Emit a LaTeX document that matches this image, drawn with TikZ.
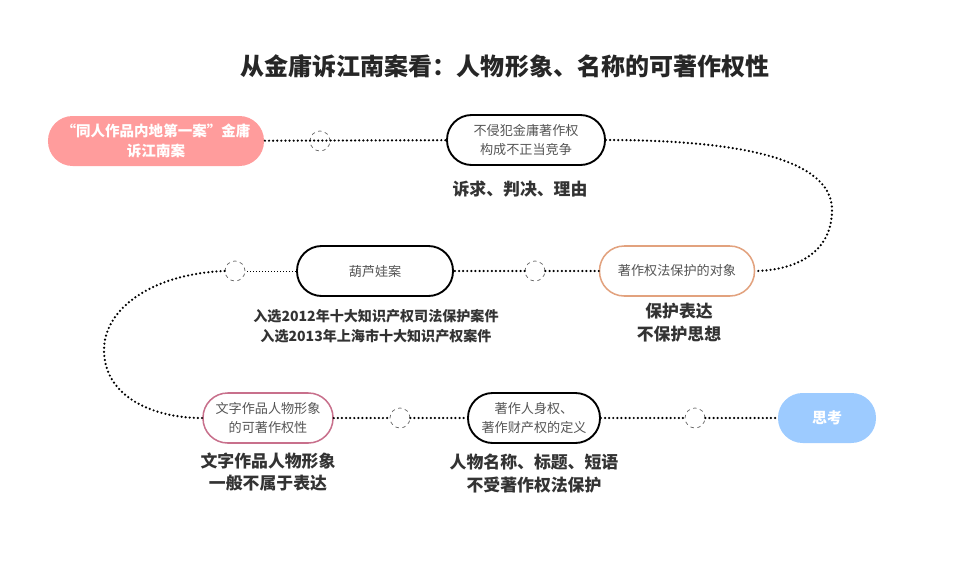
\documentclass[tikz,border=0pt]{standalone}
\usepackage{fontspec}
\newfontfamily\cjk{Noto Sans CJK SC}
\definecolor{pinkfill}{HTML}{FF9C9C}
\definecolor{bluefill}{HTML}{9DCBFF}
\definecolor{orangeedge}{HTML}{E2A27E}
\definecolor{roseedge}{HTML}{C8708C}
\definecolor{pilltext}{HTML}{555555}
\definecolor{notetext}{HTML}{333333}
\begin{document}
\begin{tikzpicture}[x=0.03cm,y=-0.03cm,every node/.style={font=\cjk},
    pill/.style={rectangle, rounded corners=0.74cm, minimum height=1.5cm, align=center,
      inner sep=2pt, text=pilltext, font=\cjk\fontsize{11.2}{16}\selectfont,
      line width=1.6pt, draw=black, fill=white},
    hollow/.style={circle, draw=black!60, dashed, line width=0.6pt, minimum size=0.6cm, inner sep=0pt},
    dots/.style={line width=2.1pt, line cap=round, dash pattern=on 0pt off 3.5pt},
    note/.style={align=center, text=notetext, font=\cjk\bfseries\fontsize{14.4}{19.6}\selectfont}]
    \useasboundingbox (0,0) rectangle (954,560);

    \node[font=\cjk\bfseries\fontsize{20.5}{24}\selectfont, text=black!85] (title) at (505,66)
      {从金庸诉江南案看：人物形象、名称的可著作权性};

    % first row
    \node[pill, draw=none, fill=pinkfill, text=white, minimum width=6.48cm,
      font=\cjk\bfseries\fontsize{12.4}{17}\selectfont] (suit) at (156,141)
      {“同人作品内地第一案”金庸\\诉江南案};
    \node[pill, minimum width=4.74cm] (claim) at (526,140) {不侵犯金庸著作权\\构成不正当竞争};
    \node[note] (claimnote) at (520,189) {诉求、判决、理由};

    % second row
    \node[pill, draw=orangeedge, line width=1.3pt, minimum width=4.65cm] (object) at (677,271)
      {著作权法保护的对象};
    \node[note] (objectnote) at (679,323) {保护表达\\不保护思想};
    \node[pill, minimum width=4.68cm] (gourd) at (375,271) {葫芦娃案};
    \node[note, font=\cjk\bfseries\fontsize{12}{17}\selectfont] (gourdnote) at (376,326)
      {入选2012年十大知识产权司法保护案件\\入选2013年上海市十大知识产权案件};

    % third row
    \node[pill, draw=roseedge, line width=1.3pt, minimum width=3.9cm] (figure) at (268,418)
      {文字作品人物形象\\的可著作权性};
    \node[note] (figurenote) at (268,472) {文字作品人物形象\\一般不属于表达};
    \node[pill, minimum width=3.96cm] (rights) at (534,418) {著作人身权、\\著作财产权的定义};
    \node[note] (rightsnote) at (534,474) {人物名称、标题、短语\\不受著作权法保护};
    \node[pill, draw=none, fill=bluefill, text=white, minimum width=2.94cm,
      font=\cjk\bfseries\fontsize{12.8}{17}\selectfont] (think) at (827,418) {思考};

    \node[hollow] (ca) at (320,141) {};
    \foreach \n/\x/\y in {cb/535/271,cc/235/271,cd/400/418,ce/695/418}
      \node[hollow, fill=white] (\n) at (\x,\y) {};

    \coordinate (rturn) at (832,210);
    \coordinate (lturn) at (104,350);

    \draw[dots] (suit) -- (claim);
    \draw[dots] (claim.east) .. controls (760,140) and (832,165) .. (rturn)
      .. controls (832,250) and (800,270) .. (object.east);
    \draw[dots] (object) -- (cb) -- (gourd);
    \draw[line width=0.6pt, dotted] (gourd) -- (cc);
    \draw[dots] (cc.west) .. controls (150,274) and (104,310) .. (lturn)
      .. controls (104,395) and (150,418) .. (figure.west);
    \draw[dots] (figure) -- (cd) -- (rights) -- (ce) -- (think);
\end{tikzpicture}
\end{document}
